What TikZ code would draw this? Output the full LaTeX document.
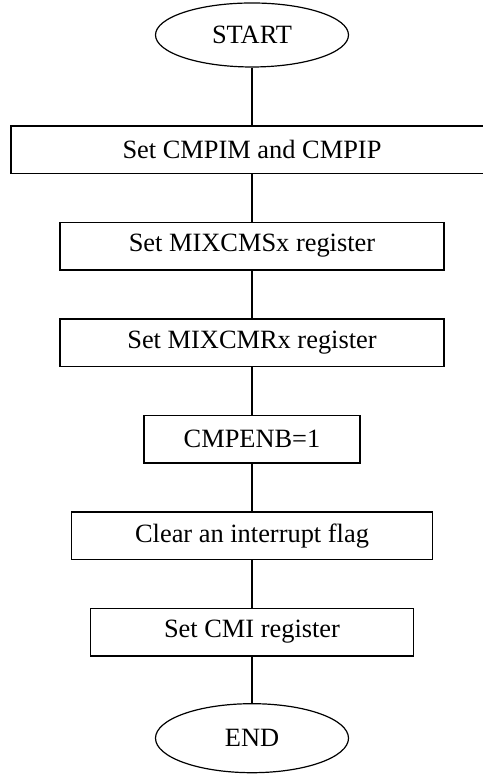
\documentclass[tikz,border=0pt]{standalone}
\usepackage{fontspec}
\setmainfont{Liberation Serif}
\usetikzlibrary{positioning,shapes.geometric}

\begin{document}
\begin{tikzpicture}[
  box/.style={draw, rectangle, line width=1.5pt, minimum height=47.5pt, inner sep=0pt, align=center, font=\fontsize{26.4}{30}\selectfont},
  term/.style={draw, ellipse, line width=1.2pt, minimum width=193pt, minimum height=64pt, inner sep=0pt, font=\fontsize{26.4}{30}\selectfont},
  link/.style={line width=1.5pt}
]
\useasboundingbox (0,0) rectangle (482pt,775pt);
\node[term] (start) at (252pt,740pt) {START};
\node[box, below=57.5pt of start, minimum width=482pt] (cmpim) {Set CMPIM and CMPIP};
\node[box, below=47.5pt of cmpim, minimum width=384pt] (mixcms) {Set MIXCMSx register};
\node[box, below=47.5pt of mixcms, minimum width=384pt] (mixcmr) {Set MIXCMRx register};
\node[box, below=47.5pt of mixcmr, minimum width=216pt] (cmpenb) {CMPENB=1};
\node[box, below=47.5pt of cmpenb, minimum width=361pt] (clrflag) {Clear an interrupt flag};
\node[box, below=47.5pt of clrflag, minimum width=323pt] (cmi) {Set CMI register};
\node[term, below=46.5pt of cmi, minimum height=69pt] (stop) {END};
\draw[link] (start) -- (cmpim);
\draw[link] (cmpim) -- (mixcms);
\draw[link] (mixcms) -- (mixcmr);
\draw[link] (mixcmr) -- (cmpenb);
\draw[link] (cmpenb) -- (clrflag);
\draw[link] (clrflag) -- (cmi);
\draw[link] (cmi) -- (stop);
\end{tikzpicture}
\end{document}
